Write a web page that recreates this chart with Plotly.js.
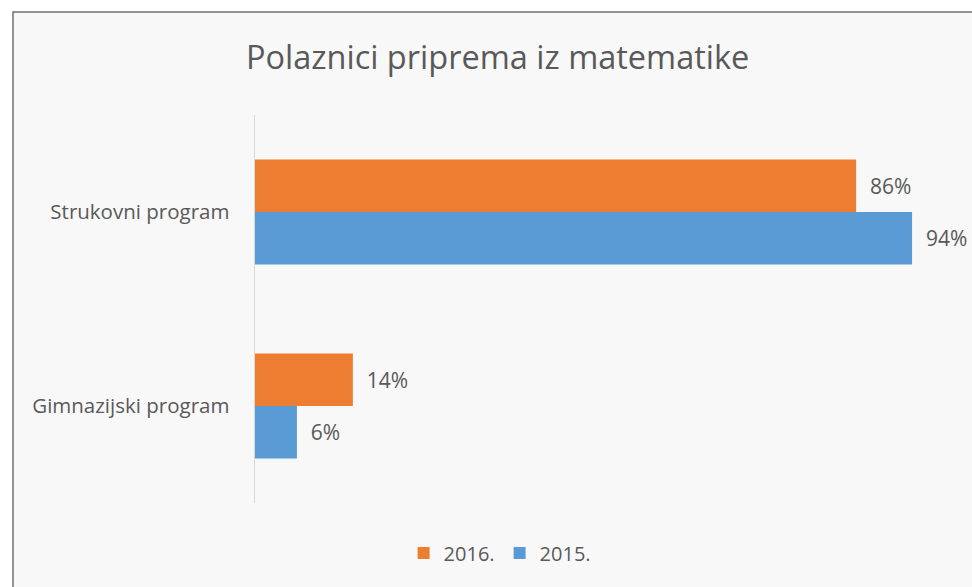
<!DOCTYPE html>
<html>
<head>
<meta charset="utf-8">
<script src="https://cdn.plot.ly/plotly-3.0.1.min.js"></script>
<style>
html,body{margin:0;padding:0;background:#ffffff;}
#chart{width:972px;height:587px;}
</style>
</head>
<body>
<div id="chart"></div>
<script>
const categories = ['Gimnazijski program', 'Strukovni program'];
const values2015 = [6, 94];
const values2016 = [14, 86];
const seriesNames = ['2015.', '2016.'];
const colors = ['#5b9bd5', '#ed7d31'];

const fontFam = '"Open Sans", "Noto Sans", sans-serif';
const txtColor = '#595959';
const pad = '\u00a0\u00a0';

const traces = [
  {type:'bar', orientation:'h', name:seriesNames[0], y:categories, x:values2015,
   marker:{color:colors[0]}, text:values2015.map(v=>pad+v+'%'), textposition:'outside',
   textfont:{family:fontFam, size:21, color:txtColor}, cliponaxis:false, hoverinfo:'none'},
  {type:'bar', orientation:'h', name:seriesNames[1], y:categories, x:values2016,
   marker:{color:colors[1]}, text:values2016.map(v=>pad+v+'%'), textposition:'outside',
   textfont:{family:fontFam, size:21, color:txtColor}, cliponaxis:false, hoverinfo:'none'}
];

const layout = {
  width:972, height:587,
  paper_bgcolor:'#ffffff', plot_bgcolor:'rgba(0,0,0,0)',
  margin:{l:255, r:18, t:115, b:84},
  font:{family:fontFam, color:txtColor},
  title:{text:'Polaznici priprema iz matematike', font:{family:fontFam, size:32.5, color:txtColor},
         x:0.512, xanchor:'center', xref:'container', y:1-58/587, yanchor:'middle', yref:'container'},
  barmode:'group', bargap:0.46, bargroupgap:0,
  xaxis:{range:[0,100], showgrid:false, zeroline:false, showticklabels:false, showline:false, fixedrange:true},
  yaxis:{type:'category', showgrid:false, zeroline:false, showline:true, linecolor:'#d9d9d9', linewidth:1.5,
         ticks:'', ticklabelstandoff:20, tickfont:{family:fontFam, size:20.5, color:txtColor}, fixedrange:true},
  showlegend:true,
  legend:{orientation:'h', traceorder:'reversed', xref:'container', yref:'container',
          x:0.514, xanchor:'center', y:1-553/587, yanchor:'middle', bgcolor:'rgba(0,0,0,0)',
          font:{family:fontFam, size:20, color:txtColor}, itemwidth:30},
  shapes:[{type:'rect', xref:'paper', yref:'paper', layer:'below',
           x0:(13-255)/699, x1:(980-255)/699, y0:(503-600)/388, y1:(503-12)/388,
           fillcolor:'#f8f8f8', line:{color:'#707070', width:1.5}}]
};

Plotly.newPlot('chart', traces, layout, {displayModeBar:false, staticPlot:true});
</script>
</body>
</html>
